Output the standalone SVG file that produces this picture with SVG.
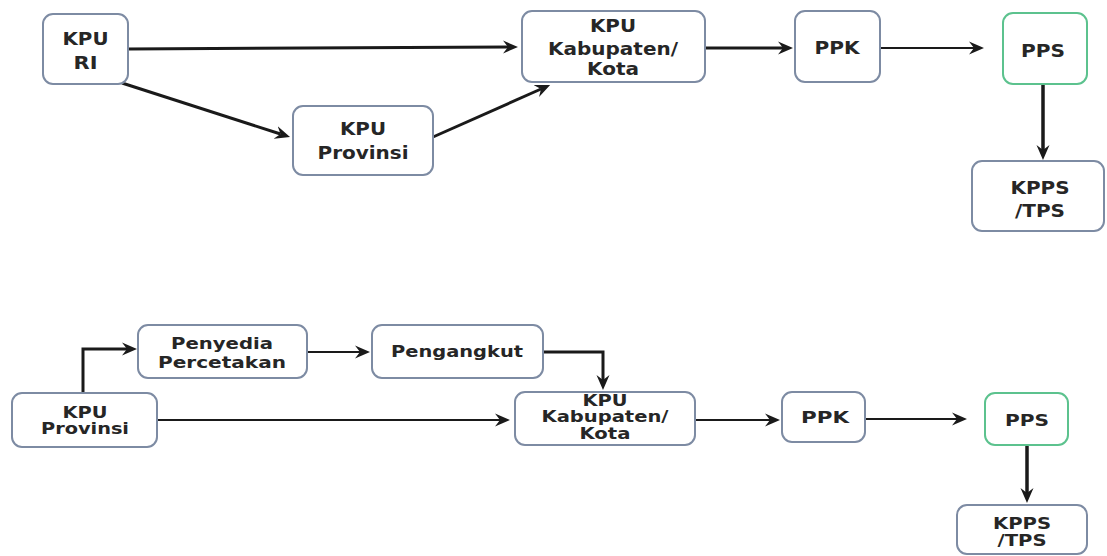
<svg xmlns="http://www.w3.org/2000/svg" width="1107" height="556" viewBox="0 0 1107 556">
<style>
.box{fill:#fff;stroke:#7d8ba3;stroke-width:2}
.green{fill:#fff;stroke:#5cc28e;stroke-width:2}
.t{font-family:"DejaVu Sans","Liberation Sans",sans-serif;font-weight:bold;fill:#262626;text-anchor:middle}
.t1{font-size:18px}
.t2{font-size:15px}
.c{fill:none;stroke:#1a1a1a;stroke-linejoin:miter}
.w3{stroke-width:3}
.w2{stroke-width:2.2}
.w35{stroke-width:3.5}
</style>
<defs>
<marker id="ah" markerUnits="userSpaceOnUse" markerWidth="16" markerHeight="14" refX="5" refY="7" orient="auto" viewBox="0 0 16 14">
<path d="M0,0.5 L15,7 L0,13.5 L5,7 z" fill="#1a1a1a"/>
</marker>
</defs>
<rect width="1107" height="556" fill="#fff"/>
<g id="connectors">
<path class="c w3" d="M128,49 L508,47" marker-end="url(#ah)"/>
<path class="c w3" d="M122,83 L280.5,134" marker-end="url(#ah)"/>
<path class="c w3" d="M433,137 L541,89" marker-end="url(#ah)"/>
<path class="c w3" d="M705,48 L783,48" marker-end="url(#ah)"/>
<path class="c w2" d="M880,48 L974,48" marker-end="url(#ah)"/>
<path class="c w35" d="M1043,84 L1043,150" marker-end="url(#ah)"/>
<path class="c w3" d="M83,393 L83,349 L127,349" marker-end="url(#ah)"/>
<path class="c w2" d="M307,352 L360,352" marker-end="url(#ah)"/>
<path class="c w3" d="M543,352 L603,352 L603,380" marker-end="url(#ah)"/>
<path class="c w2" d="M157,420 L500,420" marker-end="url(#ah)"/>
<path class="c w2" d="M695,420 L770,420" marker-end="url(#ah)"/>
<path class="c w2" d="M865,419 L957,419" marker-end="url(#ah)"/>
<path class="c w35" d="M1027,445 L1027,493" marker-end="url(#ah)"/>
</g>
<g id="kpu-ri">
<rect class="box" x="43" y="14" width="85" height="70" rx="10"/>
<text class="t t1" x="85.5" y="44.5" textLength="46" lengthAdjust="spacingAndGlyphs">KPU</text>
<text class="t t1" x="85.5" y="68.5" textLength="24" lengthAdjust="spacingAndGlyphs">RI</text>
</g>
<g id="kpu-provinsi">
<rect class="box" x="293" y="106" width="140" height="69" rx="10"/>
<text class="t t1" x="363" y="134.5" textLength="46" lengthAdjust="spacingAndGlyphs">KPU</text>
<text class="t t1" x="363" y="158.5" textLength="91" lengthAdjust="spacingAndGlyphs">Provinsi</text>
</g>
<g id="kpu-kabupaten">
<rect class="box" x="522" y="11" width="183" height="71" rx="10"/>
<text class="t t1" x="613" y="31.5" textLength="46" lengthAdjust="spacingAndGlyphs">KPU</text>
<text class="t t1" x="613" y="54.5" textLength="130" lengthAdjust="spacingAndGlyphs">Kabupaten/</text>
<text class="t t1" x="613" y="75" textLength="52" lengthAdjust="spacingAndGlyphs">Kota</text>
</g>
<g id="ppk">
<rect class="box" x="795" y="11" width="85" height="71" rx="10"/>
<text class="t t1" x="837" y="53.5" textLength="45" lengthAdjust="spacingAndGlyphs">PPK</text>
</g>
<g id="pps">
<rect class="green" x="1003" y="13" width="84" height="71" rx="10"/>
<text class="t t1" x="1043" y="56.5" textLength="44" lengthAdjust="spacingAndGlyphs">PPS</text>
</g>
<g id="kpps-tps">
<rect class="box" x="972" y="161" width="132" height="70" rx="10"/>
<text class="t t1" x="1040" y="193.5" textLength="59" lengthAdjust="spacingAndGlyphs">KPPS</text>
<text class="t t1" x="1040" y="216.5" textLength="50" lengthAdjust="spacingAndGlyphs">/TPS</text>
</g>
<g id="kpu-provinsi-2">
<rect class="box" x="12" y="393" width="145" height="54" rx="10"/>
<text class="t t2" x="85" y="417.5" textLength="45" lengthAdjust="spacingAndGlyphs">KPU</text>
<text class="t t2" x="85" y="434" textLength="88" lengthAdjust="spacingAndGlyphs">Provinsi</text>
</g>
<g id="penyedia-percetakan">
<rect class="box" x="138" y="325" width="169" height="53" rx="10"/>
<text class="t t2" x="222" y="348.5" textLength="102" lengthAdjust="spacingAndGlyphs">Penyedia</text>
<text class="t t2" x="222" y="367.5" textLength="128" lengthAdjust="spacingAndGlyphs">Percetakan</text>
</g>
<g id="pengangkut">
<rect class="box" x="372" y="325" width="171" height="53" rx="10"/>
<text class="t t2" x="457" y="357" textLength="132" lengthAdjust="spacingAndGlyphs">Pengangkut</text>
</g>
<g id="kpu-kabupaten-2">
<rect class="box" x="515" y="392" width="180" height="53" rx="10"/>
<text class="t t2" x="605" y="405.5" textLength="45" lengthAdjust="spacingAndGlyphs">KPU</text>
<text class="t t2" x="605" y="422" textLength="127" lengthAdjust="spacingAndGlyphs">Kabupaten/</text>
<text class="t t2" x="605" y="439" textLength="51" lengthAdjust="spacingAndGlyphs">Kota</text>
</g>
<g id="ppk-2">
<rect class="box" x="782" y="392" width="83" height="50" rx="10"/>
<text class="t t2" x="825" y="422.5" textLength="48" lengthAdjust="spacingAndGlyphs">PPK</text>
</g>
<g id="pps-2">
<rect class="green" x="985" y="393" width="83" height="52" rx="10"/>
<text class="t t2" x="1027" y="425.5" textLength="44" lengthAdjust="spacingAndGlyphs">PPS</text>
</g>
<g id="kpps-tps-2">
<rect class="box" x="957" y="505" width="130" height="49" rx="10"/>
<text class="t t2" x="1022" y="528.5" textLength="58" lengthAdjust="spacingAndGlyphs">KPPS</text>
<text class="t t2" x="1022" y="546" textLength="49" lengthAdjust="spacingAndGlyphs">/TPS</text>
</g>
</svg>
